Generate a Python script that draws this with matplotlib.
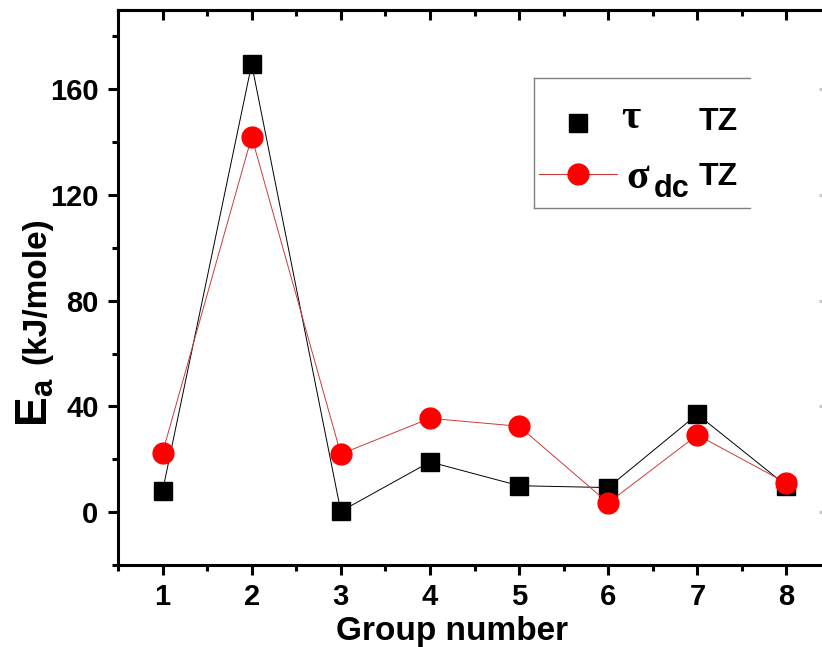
import matplotlib
matplotlib.use('Agg')
import matplotlib.pyplot as plt
from matplotlib.lines import Line2D
from matplotlib.ticker import MultipleLocator

plt.rcParams['font.family'] = ['Liberation Sans', 'DejaVu Sans']
plt.rcParams['font.weight'] = 'bold'
plt.rcParams['mathtext.fontset'] = 'custom'
plt.rcParams['mathtext.rm'] = 'Liberation Serif'
plt.rcParams['mathtext.it'] = 'Liberation Serif'
plt.rcParams['mathtext.bf'] = 'Liberation Sans:bold'
plt.rcParams['mathtext.sf'] = 'Liberation Sans'

# data
groups = [1, 2, 3, 4, 5, 6, 7, 8]
ea_tau = [8, 169.5, 0.3, 19, 10, 9.3, 37, 10]
ea_sigma = [22.5, 142, 22, 35.5, 32.5, 3.5, 29.2, 11]
group_ticks = [1, 2, 3, 4, 5, 6, 7, 8]
ea_ticks = [0, 40, 80, 120, 160]

W, H = 822, 647
fig = plt.figure(figsize=(W / 100, H / 100), dpi=100)
# right spine falls just outside the picture, as in the reference crop
ax = fig.add_axes([118 / W, 1 - 565 / H, 713 / W, 555 / H])


def ax_xy(px, py):
    """pixel position in the picture -> axes fraction"""
    return (px - 118) / 713, 1 - (py - 10) / 555


ax.plot(groups, ea_tau, color='black', lw=0.7, marker='s', ms=13,
        mec='black', mfc='black', zorder=3)
ax.plot(groups, ea_sigma, color='#c83c3c', lw=0.7, marker='o', ms=15,
        mec='red', mfc='red', zorder=4)

ax.set_xlim(0.5, 8.5)
ax.set_ylim(-20, 190)
ax.set_xticks(group_ticks)
ax.set_yticks(ea_ticks)
ax.xaxis.set_minor_locator(MultipleLocator(0.5))
ax.yaxis.set_minor_locator(MultipleLocator(20))

for s in ax.spines.values():
    s.set_linewidth(2.2)

ax.tick_params(axis='both', which='major', labelsize=21, width=2.2, length=7)
ax.tick_params(axis='both', which='minor', width=2.2, length=4)
ax.tick_params(axis='x', which='major', pad=6)
ax.tick_params(axis='y', which='major', pad=7)
ax.tick_params(which='both', direction='out', top=False, right=False)
for lab in ax.get_xticklabels() + ax.get_yticklabels():
    lab.set_fontweight('bold')

# top and right ticks point inward
ax2 = ax.secondary_xaxis('top')
ax2.set_xticks(group_ticks)
ax2.xaxis.set_minor_locator(MultipleLocator(0.5))
ax2.tick_params(which='major', direction='in', width=2.2, length=7, labeltop=False)
ax2.tick_params(which='minor', direction='in', width=2.2, length=4)
ax2.spines['top'].set_linewidth(2.2)
ax3 = ax.secondary_yaxis('right')
ax3.set_yticks(ea_ticks)
ax3.yaxis.set_minor_locator(MultipleLocator(20))
ax3.tick_params(which='major', direction='in', width=2.2, length=9, labelright=False,
                color='#c8c8c8')
ax3.tick_params(which='minor', direction='in', width=2.2, length=4)

# axis titles
fig.text(452 / W, 1 - 640 / H, 'Group number', fontsize=24, fontweight='bold',
         ha='center', va='baseline')
fig.text(47 / W, 1 - 427 / H, r'$\mathbf{E}_{\mathsf{a}}$', fontsize=32,
         rotation=90, rotation_mode='anchor', ha='left', va='baseline')
fig.text(45 / W, 1 - 364 / H, '(kJ/mole)', fontsize=24, fontweight='bold',
         rotation=90, rotation_mode='anchor', ha='left', va='baseline')

# legend keys, texts are placed by hand below
handles = [
    Line2D([], [], ls='none', marker='s', ms=13, color='black'),
    Line2D([], [], color='#c83c3c', lw=0.8, marker='o', ms=15, mfc='red', mec='red'),
]
ax.legend(handles, ['', ''], loc='upper left', bbox_to_anchor=ax_xy(539, 110),
          frameon=False, fontsize=20, handlelength=2.81, handleheight=1.5,
          handletextpad=0, borderpad=0, labelspacing=0.63, borderaxespad=0)

ax.text(*ax_xy(621, 128), r'$\tau$', fontsize=30, transform=ax.transAxes,
        ha='left', va='baseline')
ax.text(*ax_xy(699, 130), 'TZ', fontsize=23, fontweight='bold',
        transform=ax.transAxes, ha='left', va='baseline')
ax.text(*ax_xy(626, 188), r'$\sigma$', fontsize=30, transform=ax.transAxes,
        ha='left', va='baseline')
ax.text(*ax_xy(654, 197), 'dc', fontsize=22, fontweight='bold',
        transform=ax.transAxes, ha='left', va='baseline')
ax.text(*ax_xy(699, 185), 'TZ', fontsize=23, fontweight='bold',
        transform=ax.transAxes, ha='left', va='baseline')

# legend frame with the right side left open
(fx0, fy1), (fx1, fy0) = ax_xy(534, 78), ax_xy(750, 208)
for xs, ys in [([fx0, fx1], [fy1, fy1]), ([fx0, fx1], [fy0, fy0]), ([fx0, fx0], [fy0, fy1])]:
    ax.add_line(Line2D(xs, ys, transform=ax.transAxes, color='#808080', lw=1.0,
                       clip_on=False))

fig.savefig('out.png', dpi=100)
